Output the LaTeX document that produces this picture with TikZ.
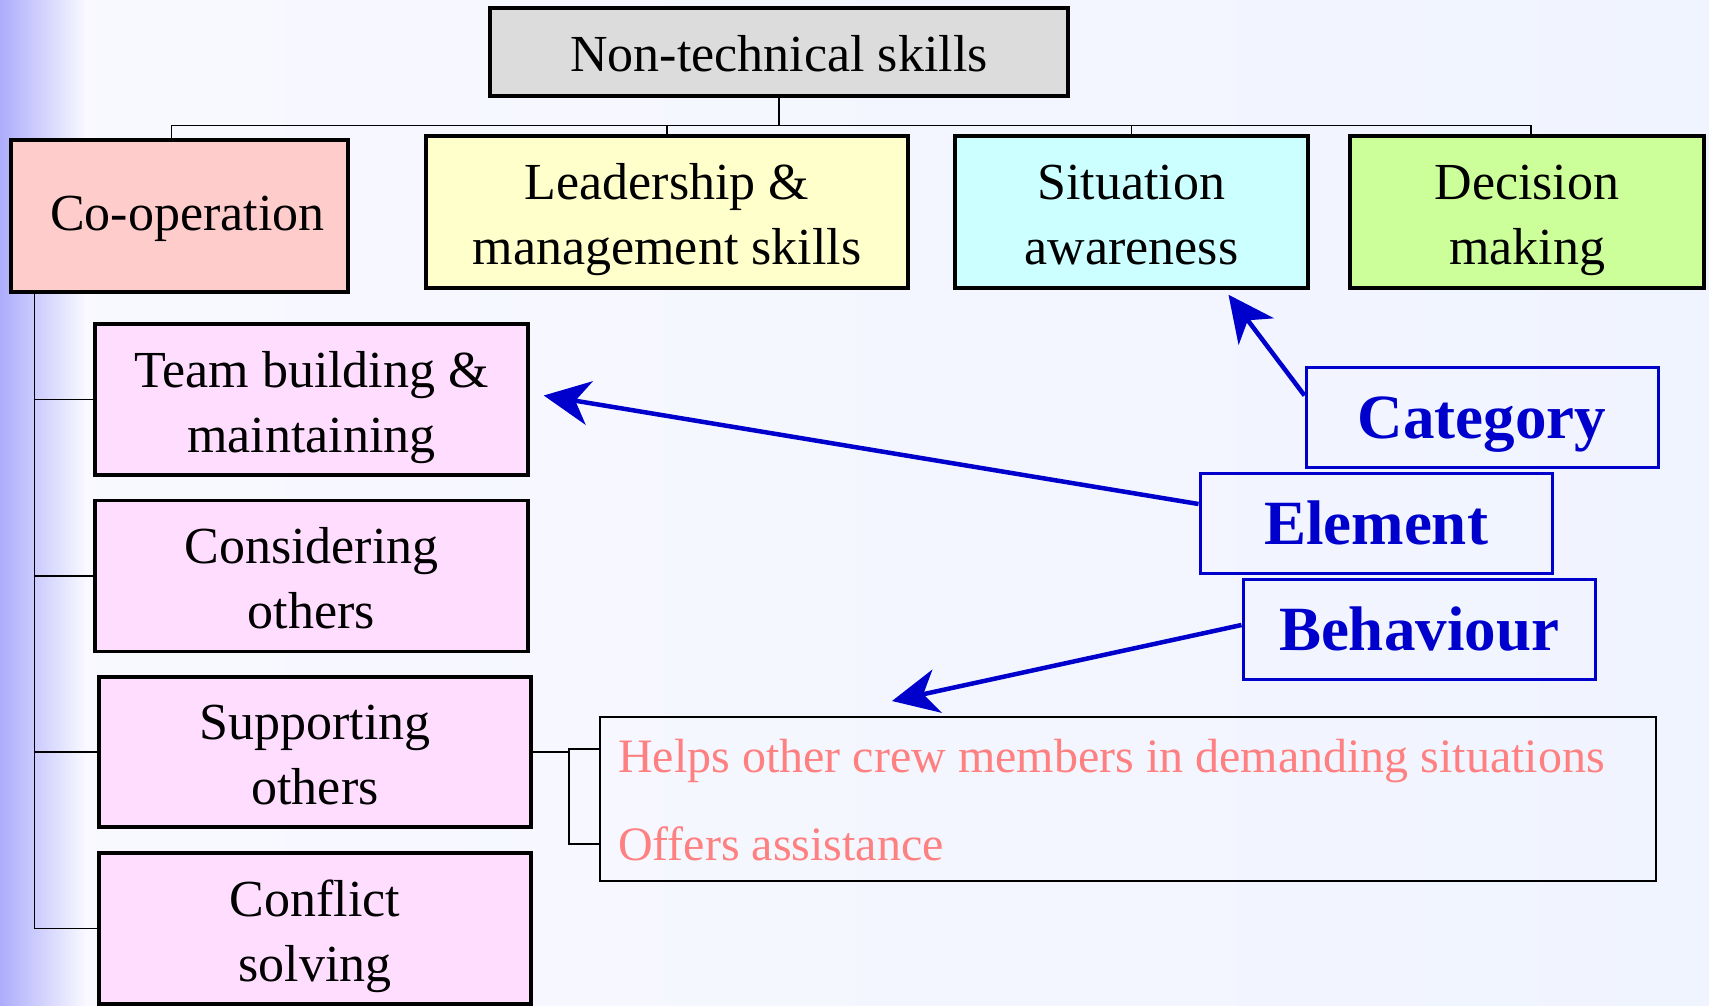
\documentclass[tikz,border=0pt]{standalone}
\usepackage{fontspec}
\setmainfont{Liberation Serif}
\usetikzlibrary{arrows.meta,calc}
\definecolor{bgmain}{RGB}{249,249,255}
\definecolor{bgright}{RGB}{240,244,255}
\definecolor{bgleft}{RGB}{172,172,252}
\definecolor{hdrgray}{RGB}{220,220,220}
\definecolor{coopfill}{RGB}{255,204,204}
\definecolor{leadfill}{RGB}{255,255,204}
\definecolor{sitfill}{RGB}{204,255,255}
\definecolor{decfill}{RGB}{204,255,153}
\definecolor{elemfill}{RGB}{255,221,255}
\definecolor{keyblue}{RGB}{0,0,204}
\definecolor{behtext}{RGB}{255,128,128}
% centred lines of text, set a little lower than the box centre
\newcommand\boxlines[2][7pt]{\raisebox{-#1}[\height][\depth]{\begin{tabular}{@{}c@{}}#2\end{tabular}}}
\tikzset{
  catbox/.style={draw=black, line width=3.5pt, inner sep=0pt,
    font=\fontsize{52}{65}\selectfont},
  elembox/.style={catbox, fill=elemfill, minimum width=433pt, minimum height=151pt},
  keybox/.style={draw=keyblue, line width=3pt, inner sep=0pt, text=keyblue,
    text depth=0pt, minimum width=352pt, minimum height=100pt,
    font=\fontsize{63}{70}\selectfont\bfseries},
  conn/.style={draw=black, line width=1.5pt},
  keyarrow/.style={draw=keyblue, line width=4.5pt,
    -{Stealth[length=46pt,width=44pt,inset=14pt]}},
  behitem/.style={text=behtext, anchor=west, inner sep=0pt,
    font=\fontsize{48}{56}\selectfont},
}
\begin{document}
\begin{tikzpicture}[x=1pt,y=-1pt]
  % background with a bluish fade on the left edge
  \useasboundingbox (0,0) rectangle (1709,1006);
  \shade[left color=bgmain, right color=bgright] (0,0) rectangle (1709,1006);
  \shade[left color=bgleft, right color=bgmain] (0,0) rectangle (86,1006);

  % header and categories
  \node[catbox, fill=hdrgray, minimum width=578pt, minimum height=88pt] (top) at (779,52) {\boxlines[7pt]{Non-technical skills}};
  \node[catbox, fill=coopfill, minimum width=337pt, minimum height=152pt] (coop) at (179.5,216) {\boxlines[1pt]{\hspace*{16pt}Co-operation}};
  \node[catbox, fill=leadfill, minimum width=482pt, minimum height=152pt] (lead) at (667,212) {\boxlines{Leadership \&\\management skills}};
  \node[catbox, fill=sitfill, minimum width=353pt, minimum height=152pt] (sit) at (1131.5,212) {\boxlines{Situation\\awareness}};
  \node[catbox, fill=decfill, minimum width=354pt, minimum height=152pt] (dec) at (1527,212) {\boxlines{Decision\\making}};

  % bus from header to categories
  \coordinate (bus) at ($(top.south)+(0,28)$);
  \draw[conn] (top.south) -- (bus);
  \draw[conn] (bus) -| ([xshift=-8pt]coop.north);
  \draw[conn] (bus) -| (lead.north);
  \draw[conn] (bus) -| (sit.north);
  \draw[conn] (bus) -| ([xshift=4pt]dec.north);

  % elements of co-operation
  \node[elembox] (team) at (311.5,399.5) {\boxlines{Team building \&\\maintaining}};
  \node[elembox] (cons) at (311.5,576) {\boxlines{Considering\\others}};
  \node[elembox, minimum width=432pt, minimum height=150pt] (supp) at (315,752) {\boxlines{Supporting\\others}};
  \node[elembox, minimum width=432pt] (conf) at (315,928.5) {\boxlines{Conflict\\solving}};

  \coordinate (spine) at ([xshift=25pt]coop.south west);
  \draw[conn] (spine) |- (conf.west);
  \draw[conn] (spine |- team.west) -- (team.west);
  \draw[conn] (spine |- cons.west) -- (cons.west);
  \draw[conn] (spine |- supp.west) -- (supp.west);

  % behaviours of "Supporting others"
  \node[draw=black, line width=2pt, minimum width=1056pt, minimum height=164pt, inner sep=0pt] (list) at (1128,799) {};
  \node[behitem] (item1) at (618,761) {Helps other crew members in demanding situations};
  \node[behitem] (item2) at (618,844) {Offers assistance};
  \coordinate (fork) at ($(supp.east)+(36,-3)$);
  \draw[conn] (supp.east) -- (supp.east -| fork) -- (fork) -- (list.west |- fork);
  \draw[conn] (fork) |- (list.west |- item2.west);

  % key
  \node[keybox] (cat) at (1482,417.5) {Category};
  \node[keybox] (elem) at (1376,523) {Element};
  \node[keybox] (beh) at (1419,629) {Behaviour};

  \draw[keyarrow] ([yshift=22pt]cat.west) -- ([xshift=97pt,yshift=-5pt]sit.south);
  \draw[keyarrow] ([yshift=19pt]elem.west) -- ([xshift=14pt,yshift=4pt]team.east);
  \draw[keyarrow] ([yshift=4pt]beh.west) -- ([xshift=-236pt,yshift=15pt]list.north);
\end{tikzpicture}
\end{document}
